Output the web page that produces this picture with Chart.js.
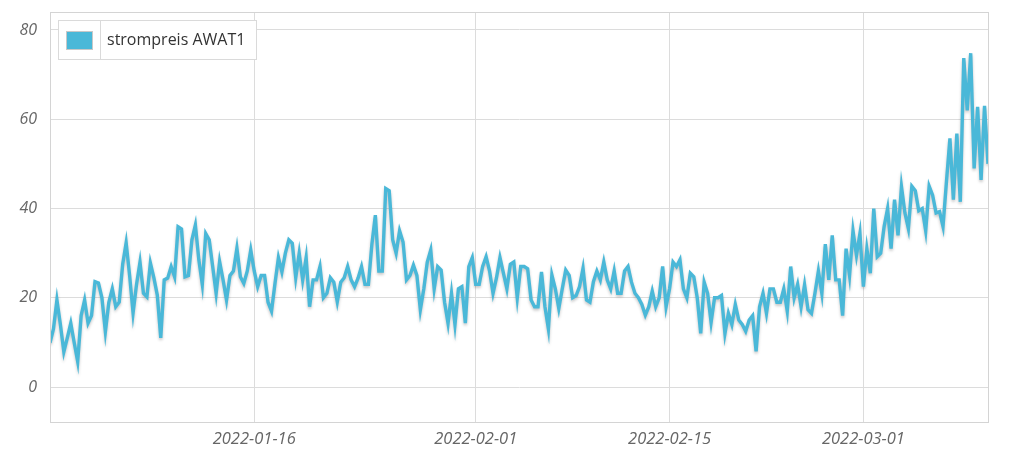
<!DOCTYPE html>
<html>
<head>
<meta charset="utf-8">
<script src="https://cdn.jsdelivr.net/npm/chart.js@4"></script>
<style>
  html, body { margin: 0; padding: 0; background: #fff; }
  #wrap { width: 1020px; height: 450px; }
</style>
</head>
<body>
<div id="wrap"><canvas id="chart"></canvas></div>
<script>
// series: 6-hourly price samples starting 2022-01-01 06:00 UTC
const seriesLabel = 'strompreis AWAT1';
const startTime = '2022-01-01T06:00:00Z';
const stepHours = 6;
const prices = [
  9.9, 13, 19.5, 14, 7.9, 11, 14.3, 9.9, 5.7, 16, 19.5, 14.3, 16, 23.6, 23.3, 20,
  12.4, 19, 22, 18, 19, 27.5, 32.3, 25, 16.6, 23, 28, 21, 20.2, 27.8, 24.5, 20.6,
  11, 24, 24.4, 27, 24.7, 35.9, 35.4, 24.7, 25, 33, 36.3, 28.5, 23, 34.4, 33, 27,
  21, 28.1, 24, 19.5, 25, 26, 31.1, 24.7, 23.2, 26, 30.7, 26, 22.5, 25, 25, 19,
  17, 23.2, 29, 25.8, 30, 33, 32.2, 24.5, 30, 24, 29, 18, 24, 24, 27, 20,
  21, 24.5, 23.5, 19.1, 23.5, 24.5, 27, 24, 22.5, 24.4, 27, 23, 23, 32, 38.5, 26,
  26, 44.5, 44, 33, 30, 35, 32.5, 24, 25, 27.3, 25, 17.3, 22, 28, 30.7, 22,
  27, 26.2, 19, 14.3, 21, 14, 22, 22.5, 14.3, 27, 29, 23, 23, 27, 29.2, 26,
  21, 24.5, 29, 25.5, 22, 27.5, 28, 20, 27, 27, 26.5, 19.5, 18, 18, 25.8, 18,
  13, 25.1, 22, 17.6, 22, 26.2, 25, 20, 20.5, 22.5, 26.6, 19.5, 19, 23.6, 26, 24,
  28, 24, 22, 26, 21, 21, 26, 27, 23.5, 21, 20, 18.5, 16.1, 18, 21.5, 18,
  20, 27, 18, 22, 28, 27, 28.5, 22, 20, 25.5, 24.7, 20, 12, 23.5, 21, 14.5,
  20, 20, 20.5, 12, 16.5, 14, 18.5, 15, 14, 12.5, 15, 16, 8, 18, 21, 16.5,
  22, 22, 19, 19, 22, 17, 27, 20, 23, 18, 22.9, 17.3, 16.5, 21, 26, 21,
  32, 24, 34, 24, 24, 16, 31, 25, 35, 29.5, 34.4, 22.5, 31, 25.5, 40, 29.2,
  30, 36, 40, 31, 42, 34, 44.9, 39, 35.5, 45, 44, 39.5, 40, 35, 45, 43,
  39, 39.3, 36, 46, 55.7, 42, 56.8, 41.5, 73.7, 62, 74.8, 49, 62.8, 46.4, 63, 50
];
const tickDates = ['2022-01-16', '2022-02-01', '2022-02-15', '2022-03-01'];
const yTicks = [0, 20, 40, 60, 80];

const DAY = 86400000;
const baseTime = Date.parse('2022-01-01T00:00:00Z');
const toDay = t => (t - baseTime) / DAY;
const t0 = Date.parse(startTime);

const points = prices.map((v, i) => ({ x: toDay(t0 + i * stepHours * 3600000), y: v }));
const lineColor = '#4ab8d8';

// soft shadow under the line
const lineShadow = {
    id: 'lineShadow',
    beforeDatasetDraw(chart) {
        const ctx = chart.ctx;
        ctx.save();
        ctx.shadowColor = 'rgba(0, 0, 0, 0.22)';
        ctx.shadowBlur = 3;
        ctx.shadowOffsetY = 2;
    },
    afterDatasetDraw(chart) {
        chart.ctx.restore();
    }
};

// frame around the plot area + boxed legend at top left
const frameAndLegend = {
    id: 'frameAndLegend',
    afterDraw(chart) {
        const ctx = chart.ctx;
        const a = chart.chartArea;
        ctx.save();
        ctx.strokeStyle = '#d4d4d4';
        ctx.lineWidth = 1;
        ctx.strokeRect(Math.round(a.left) + 0.5, Math.round(a.top) + 0.5,
            Math.round(a.right - a.left), Math.round(a.bottom - a.top));

        const lx = 58.5, ly = 20.5, lw = 198, lh = 39;
        ctx.fillStyle = '#fff';
        ctx.fillRect(lx, ly, lw, lh);
        ctx.strokeStyle = '#dadada';
        ctx.strokeRect(lx, ly, lw, lh);
        ctx.beginPath();
        ctx.moveTo(100.5, ly);
        ctx.lineTo(100.5, ly + lh);
        ctx.stroke();
        ctx.fillStyle = lineColor;
        ctx.fillRect(67, 32, 25, 17);
        ctx.strokeStyle = '#c8c8c8';
        ctx.strokeRect(66.5, 31.5, 26, 18);
        ctx.fillStyle = '#333';
        ctx.font = '16px "Open Sans"';
        ctx.textBaseline = 'middle';
        ctx.fillText(chart.data.datasets[0].label, 107, 40);
        ctx.restore();
    }
};

const dateLabel = v => new Date(baseTime + v * DAY).toISOString().slice(0, 10);

new Chart(document.getElementById('chart'), {
    type: 'line',
    data: {
        datasets: [{
            label: seriesLabel,
            data: points,
            borderColor: lineColor,
            borderWidth: 3.4,
            pointRadius: 0,
            tension: 0,
            fill: false
        }]
    },
    options: {
        responsive: true,
        maintainAspectRatio: false,
        animation: false,
        layout: { padding: { top: 12, right: 32, left: 0, bottom: 0 } },
        plugins: {
            legend: { display: false },
            tooltip: { enabled: false }
        },
        scales: {
            x: {
                type: 'linear',
                min: toDay(t0),
                max: 68.0,
                afterBuildTicks: scale => {
                    scale.ticks = tickDates.map(d => ({ value: toDay(Date.parse(d + 'T00:00:00Z')) }));
                },
                afterFit: scale => {
                    scale.height = 28;
                    scale.paddingLeft = 0;
                    scale.paddingRight = 0;
                },
                grid: { color: '#dcdcdc', drawTicks: false },
                border: { color: '#d4d4d4' },
                ticks: {
                    padding: 7,
                    maxRotation: 0,
                    color: '#666',
                    font: { family: 'Open Sans', size: 16.5, style: 'italic' },
                    callback: v => dateLabel(v)
                }
            },
            y: {
                min: -7.84,
                max: 84.03,
                afterBuildTicks: scale => {
                    scale.ticks = yTicks.map(v => ({ value: v }));
                },
                afterFit: scale => {
                    scale.width = 50;
                    scale.paddingTop = 0;
                    scale.paddingBottom = 0;
                },
                grid: { color: '#dcdcdc', drawTicks: false },
                border: { color: '#d4d4d4' },
                ticks: {
                    padding: 13,
                    color: '#666',
                    font: { family: 'Open Sans', size: 16, style: 'italic' }
                }
            }
        }
    },
    plugins: [lineShadow, frameAndLegend]
});
</script>
</body>
</html>
